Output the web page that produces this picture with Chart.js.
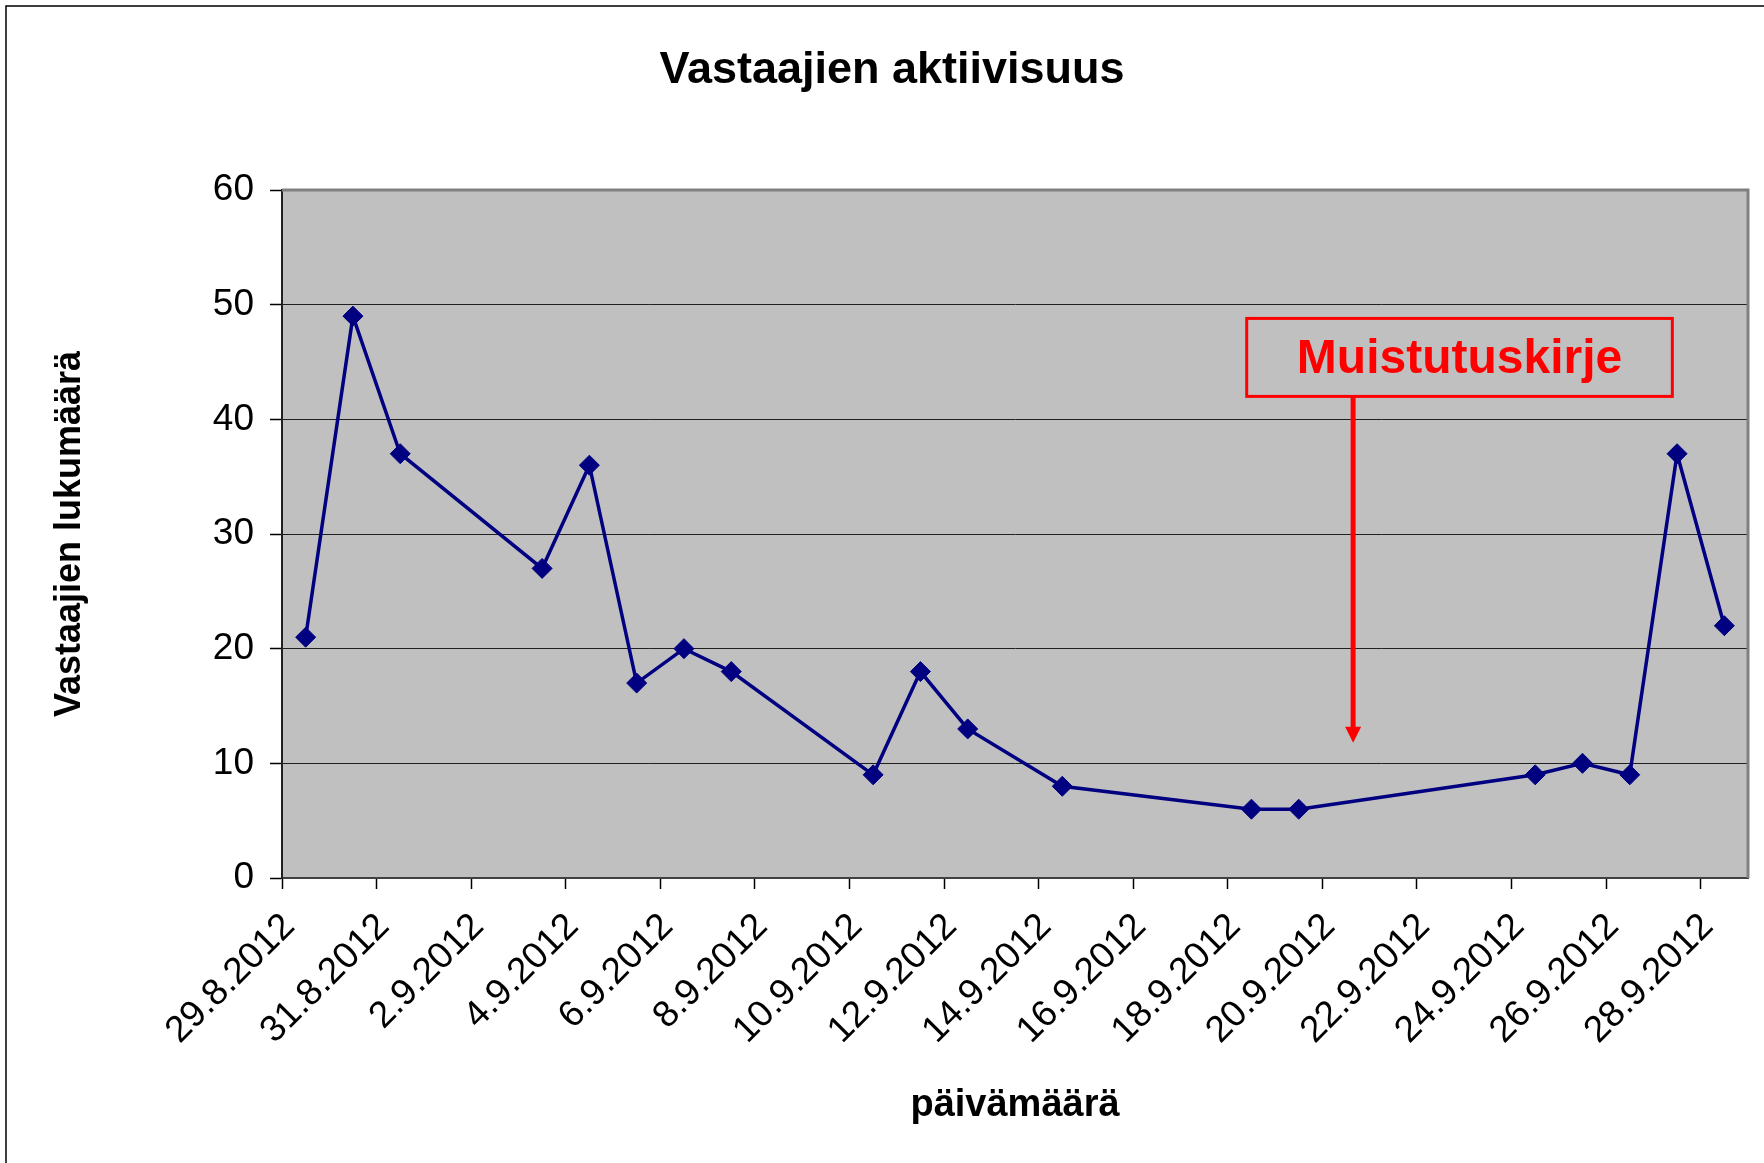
<!DOCTYPE html>
<html>
<head>
<meta charset="utf-8">
<title>Vastaajien aktiivisuus</title>
<script src="https://cdn.jsdelivr.net/npm/chart.js@4.4.0/dist/chart.umd.min.js"></script>
<style>
  html, body { margin: 0; padding: 0; background: #fff; }
</style>
</head>
<body>
<canvas id="activityChart" width="1764" height="1163"></canvas>
<script>
// answer dates and number of respondents per day
const dates = [
  '29.8.2012', '30.8.2012', '31.8.2012', '3.9.2012', '4.9.2012', '5.9.2012',
  '6.9.2012', '7.9.2012', '10.9.2012', '11.9.2012', '12.9.2012', '14.9.2012',
  '18.9.2012', '19.9.2012', '24.9.2012', '25.9.2012', '26.9.2012', '27.9.2012',
  '28.9.2012'
];
const responses = [21, 49, 37, 27, 36, 17, 20, 18, 9, 18, 13, 8, 6, 6, 9, 10, 9, 37, 22];

const tickLabels = [
  '29.8.2012', '31.8.2012', '2.9.2012', '4.9.2012', '6.9.2012', '8.9.2012',
  '10.9.2012', '12.9.2012', '14.9.2012', '16.9.2012', '18.9.2012', '20.9.2012',
  '22.9.2012', '24.9.2012', '26.9.2012', '28.9.2012'
];
const yTicks = [0, 10, 20, 30, 40, 50, 60];

// reminder letter note, in axis units (days from start, respondents)
const reminder = { text: 'Muistutuskirje', from: 20.4, to: 29.4, top: 48.8, bottom: 42, arrowAt: 22.65, arrowTip: 11.8 };

const FONT = '"Liberation Sans", Arial, sans-serif';

function toUTC(s) {
  const p = s.split('.').map(Number);
  return Date.UTC(p[2], p[1] - 1, p[0]);
}
const start = toUTC(dates[0]);
function dayIndex(s) {
  return Math.round((toUTC(s) - start) / 86400000);
}

// each day is one slot on the axis, point sits in the middle of it
const points = dates.map((d, i) => ({ x: dayIndex(d) + 0.5, y: responses[i] }));
const lastDay = dayIndex(dates[dates.length - 1]) + 1;

const frame = {
  id: 'frame',
  beforeDraw(chart) {
    const { ctx, width, height, chartArea: a } = chart;
    ctx.save();
    ctx.fillStyle = '#fff';
    ctx.fillRect(0, 0, width, height);
    ctx.strokeStyle = '#000';
    ctx.lineWidth = 1.5;
    ctx.beginPath();
    ctx.moveTo(6, height);
    ctx.lineTo(6, 6);
    ctx.lineTo(width, 6);
    ctx.stroke();
    ctx.fillStyle = '#C0C0C0';
    ctx.fillRect(a.left, a.top, a.right - a.left, a.bottom - a.top);
    ctx.restore();
  },
  afterDatasetsDraw(chart) {
    const { ctx, chartArea: a } = chart;
    ctx.save();
    ctx.strokeStyle = '#808080';
    ctx.lineWidth = 3;
    ctx.beginPath();
    ctx.moveTo(a.left, a.top);
    ctx.lineTo(a.right, a.top);
    ctx.lineTo(a.right, a.bottom);
    ctx.stroke();
    ctx.restore();
  }
};

const note = {
  id: 'note',
  afterDatasetsDraw(chart) {
    const { ctx } = chart;
    const x = chart.scales.x, y = chart.scales.y;
    const l = x.getPixelForValue(reminder.from);
    const r = x.getPixelForValue(reminder.to);
    const t = y.getPixelForValue(reminder.top);
    const b = y.getPixelForValue(reminder.bottom);
    const ax = x.getPixelForValue(reminder.arrowAt);
    const tip = y.getPixelForValue(reminder.arrowTip);
    ctx.save();
    ctx.strokeStyle = '#FF0000';
    ctx.fillStyle = '#FF0000';
    ctx.lineWidth = 3;
    ctx.strokeRect(l, t, r - l, b - t);
    ctx.font = 'bold 48px ' + FONT;
    ctx.textAlign = 'center';
    ctx.textBaseline = 'middle';
    ctx.fillText(reminder.text, (l + r) / 2, (t + b) / 2 + 2);
    ctx.lineWidth = 5;
    ctx.beginPath();
    ctx.moveTo(ax, b);
    ctx.lineTo(ax, tip - 15);
    ctx.stroke();
    ctx.beginPath();
    ctx.moveTo(ax - 8, tip - 16);
    ctx.lineTo(ax + 8, tip - 16);
    ctx.lineTo(ax, tip);
    ctx.closePath();
    ctx.fill();
    ctx.restore();
  }
};

new Chart(document.getElementById('activityChart'), {
  type: 'line',
  data: {
    datasets: [{
      label: 'Vastaajat',
      data: points,
      borderColor: '#000080',
      backgroundColor: '#000080',
      borderWidth: 3.5,
      pointStyle: 'rectRot',
      pointRadius: 10,
      pointBackgroundColor: '#000080',
      pointBorderColor: '#000080',
      pointBorderWidth: 1,
      tension: 0
    }]
  },
  options: {
    responsive: false,
    animation: false,
    devicePixelRatio: 1,
    layout: { padding: { left: 36, right: 16, top: 0, bottom: 0 } },
    plugins: {
      legend: { display: false },
      tooltip: { enabled: false },
      title: {
        display: true,
        text: 'Vastaajien aktiivisuus',
        color: '#000',
        font: { family: FONT, size: 45, weight: 'bold' },
        padding: { top: 44, bottom: 92 }
      }
    },
    scales: {
      x: {
        type: 'linear',
        min: 0,
        max: lastDay,
        afterBuildTicks: (scale) => {
          scale.ticks = tickLabels.map(l => ({ value: dayIndex(l) }));
        },
        afterFit: (scale) => { scale.height = 285; },
        ticks: {
          autoSkip: false,
          minRotation: 45,
          maxRotation: 45,
          padding: 16,
          labelOffset: 7,
          color: '#000',
          font: { family: FONT, size: 37 },
          callback: (v, i) => tickLabels[i]
        },
        grid: {
          drawOnChartArea: false,
          drawTicks: true,
          tickLength: 11,
          tickColor: '#000',
          tickWidth: 1.5
        },
        border: { color: '#404040', width: 2 },
        title: {
          display: true,
          text: 'päivämäärä',
          color: '#000',
          font: { family: FONT, size: 38, weight: 'bold' },
          padding: { top: 0, bottom: 35 }
        }
      },
      y: {
        min: 0,
        max: 60,
        afterBuildTicks: (scale) => {
          scale.ticks = yTicks.map(v => ({ value: v }));
        },
        afterFit: (scale) => { scale.width = 246; },
        ticks: {
          padding: 16,
          color: '#000',
          font: { family: FONT, size: 37 }
        },
        grid: {
          color: '#202020',
          lineWidth: 1,
          tickLength: 12,
          tickColor: '#000',
          tickWidth: 1.5
        },
        border: { color: '#202020', width: 2 },
        title: {
          display: true,
          text: 'Vastaajien lukumäärä',
          color: '#000',
          font: { family: FONT, size: 36, weight: 'bold' },
          padding: { top: 12, bottom: 0 }
        }
      }
    }
  },
  plugins: [frame, note]
});
</script>
</body>
</html>
